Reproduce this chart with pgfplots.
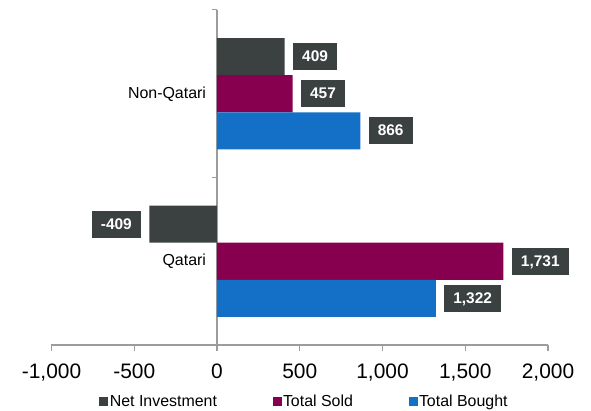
\documentclass[border=0pt]{standalone}
\usepackage{pgfplots}
\pgfplotsset{compat=1.18}
\usepackage{fontspec}
\setmainfont{Liberation Sans}
\definecolor{netc}{HTML}{3A4140}
\definecolor{soldc}{HTML}{870050}
\definecolor{boughtc}{HTML}{1470C6}
\definecolor{axc}{HTML}{9C9C9C}
\begin{document}
\begin{tikzpicture}
\begin{axis}[
  name=ax,
  scale only axis, width=496.5bp, height=335bp,
  xbar, bar width=0.221,
  xmin=-1000, xmax=2000, ymin=-0.5, ymax=1.5,
  axis x line=bottom, axis y line=middle,
  hide obscured x ticks=false, hide obscured y ticks=false,
  axis line style={-, draw=axc, line width=1.4bp},
  xtick={-1000,-500,0,500,1000,1500,2000},
  xtick style={draw=axc, line width=1.4bp},
  tick align=outside, major tick length=5.5bp,
  ytick={0,1}, yticklabels={Qatari,Non-Qatari},
  ytick style={draw=none},
  /pgf/number format/assume math mode=true,
  /pgf/number format/1000 sep={,},
  xticklabel style={font=\fontsize{21}{24}\selectfont, yshift=-10bp},
  yticklabel style={font=\fontsize{16}{19}\selectfont, xshift=-2bp},
  point meta=x,
  nodes near coords,
  nodes near coords align=horizontal,
  every node near coord/.append style={font=\fontsize{15.5}{18}\selectfont\bfseries,
     fill=netc, text=white, inner xsep=9bp, inner ysep=7.5bp,
     text height=11bp, text depth=1bp, outer xsep=8.5bp},
  legend columns=3,
  legend style={draw=none, at={(0.509,-0.168)}, anchor=center,
     font=\fontsize{16}{19}\selectfont,
     /tikz/every even column/.append style={column sep=54bp},
     nodes={inner xsep=1.5bp}},
  legend image code/.code={\fill[#1] (0bp,-4.5bp) rectangle (9bp,4.5bp);},
]
\addplot[fill=netc, draw=none, bar shift=0.221] coordinates {(-409,0) (409,1)};
\addplot[fill=soldc, draw=none, bar shift=0] coordinates {(1731,0) (457,1)};
\addplot[fill=boughtc, draw=none, bar shift=-0.221] coordinates {(1322,0) (866,1)};
\legend{Net Investment, Total Sold, Total Bought}
\draw[axc, line width=1.4bp] (axis cs:0,0.5) -- ([xshift=-5bp]axis cs:0,0.5);
\draw[axc, line width=1.4bp] ([yshift=0.7bp]axis cs:0,1.5) -- ([xshift=-5bp,yshift=0.7bp]axis cs:0,1.5);
\end{axis}
\pgfresetboundingbox
\path ([shift={(-51.5bp,-66bp)}]ax.south west) rectangle ([shift={(43bp,10bp)}]ax.north east);
\end{tikzpicture}
\end{document}
